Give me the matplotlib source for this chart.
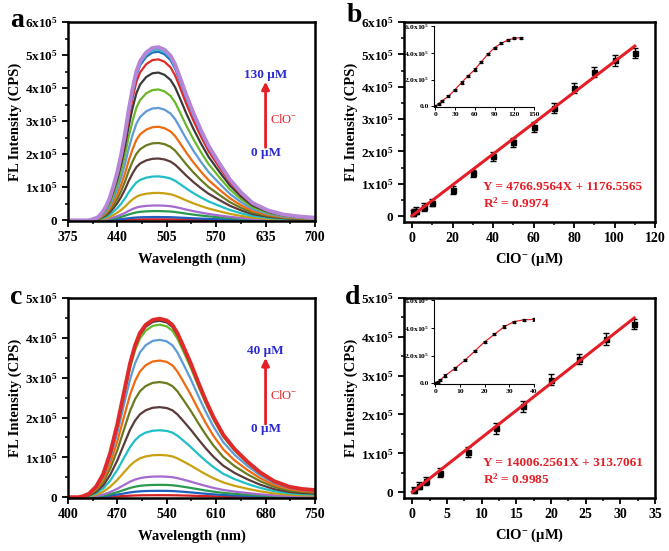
import numpy as np
import matplotlib
matplotlib.use("Agg")
import matplotlib.pyplot as plt

plt.rcParams['font.family'] = 'serif'
plt.rcParams['font.serif'] = ['Liberation Serif', 'DejaVu Serif']
plt.rcParams['font.weight'] = 'bold'
plt.rcParams['axes.labelweight'] = 'bold'
plt.rcParams['mathtext.fontset'] = 'custom'
plt.rcParams['mathtext.default'] = 'regular'

# ---- spectra, panel a (normalised shape of top curve + peak heights, x1e5) ----
a_wl = [375, 400, 405, 410, 415, 420, 425, 430, 435, 440, 445, 450, 455, 460, 465,
        470, 478, 486, 494, 502, 510, 516, 522, 531, 540, 550, 560, 574, 588, 603,
        618, 638, 658, 680, 700]
a_shape = [0, 0, 0.003, 0.01, 0.02, 0.045, 0.08, 0.13, 0.20, 0.28, 0.38, 0.50,
           0.64, 0.76, 0.86, 0.92, 0.97, 0.995, 1.0, 0.985, 0.95, 0.90, 0.83, 0.72,
           0.62, 0.52, 0.43, 0.33, 0.236, 0.16, 0.10, 0.058, 0.034, 0.022, 0.015]
a_peaks = [0.03, 0.10, 0.28, 0.45, 0.83, 1.33, 1.87, 2.34, 2.83, 3.40, 3.96, 4.47,
           4.87, 5.10, 5.17, 5.24]

# ---- spectra, panel c ----
c_wl = [400, 415, 421, 430, 440, 450, 460, 470, 480, 488, 495, 502, 510, 520, 530,
        540, 548, 555, 563, 574, 585, 595, 606, 620, 636, 654, 672, 692, 714, 732, 750]
c_shape = [0, 0, 0.005, 0.02, 0.06, 0.13, 0.25, 0.41, 0.60, 0.75, 0.85, 0.92, 0.965,
           0.993, 1.0, 0.99, 0.965, 0.92, 0.85, 0.75, 0.64, 0.545, 0.45, 0.35, 0.27,
           0.20, 0.14, 0.09, 0.058, 0.046, 0.04]
c_peaks = [0.05, 0.16, 0.31, 0.52, 1.06, 1.68, 2.26, 2.89, 3.43, 3.95, 4.33, 4.43, 4.48]

colors = ['#d42020', '#1f5fbf', '#2a9a50', '#a56ad0', '#c9a010', '#1fbfc8',
          '#5a3a3a', '#6b7a1f', '#f06a10', '#5d9ad6', '#6ab82a', '#3a3a3a',
          '#e02a2a', '#1f6fc0', '#30b8c8', '#b585d8']

# ---- calibration, panel b ----
b_conc = [0.5, 1, 2, 6, 10, 20, 30, 40, 50, 60, 70, 80, 90, 100, 110]
b_int = [0.10, 0.15, 0.17, 0.29, 0.42, 0.80, 1.32, 1.85, 2.29, 2.76, 3.35, 3.96,
         4.45, 4.81, 5.04]
b_err = [0.08, 0.08, 0.1, 0.12, 0.12, 0.12, 0.12, 0.13, 0.14, 0.15, 0.15, 0.16,
         0.16, 0.16, 0.16]
b_slope, b_icpt = 4766.9564, 1176.5565
b_fit_x = [0, 110]
bi_conc = [0, 5, 10, 20, 30, 40, 50, 60, 70, 80, 90, 100, 110, 120, 130]
bi_int = [0.0, 0.2, 0.4, 0.75, 1.25, 1.78, 2.28, 2.75, 3.33, 3.90, 4.38, 4.70, 4.95,
          5.08, 5.13]

# ---- calibration, panel d ----
d_conc = [0.25, 1, 2, 4, 8, 12, 16, 20, 24, 28, 32]
d_int = [0.05, 0.17, 0.28, 0.50, 1.03, 1.65, 2.21, 2.90, 3.43, 3.95, 4.33]
d_err = [0.08, 0.08, 0.1, 0.12, 0.13, 0.14, 0.14, 0.15, 0.13, 0.15, 0.14]
d_slope, d_icpt = 14006.2561, 313.7061
d_fit_x = [0, 32]
di_conc = [0, 0.5, 1, 2, 4, 8, 12, 16, 20, 24, 28, 32, 36, 40]
di_int = [0.0, 0.05, 0.1, 0.23, 0.56, 1.08, 1.67, 2.33, 3.0, 3.54, 4.1, 4.46, 4.59, 4.62]

RED = '#e41e26'
BLUE = '#2a2ad0'

fig = plt.figure(figsize=(6.69, 5.51), dpi=100)
ax_a = fig.add_axes([0.1016, 0.5989, 0.3692, 0.3612])
ax_b = fig.add_axes([0.6039, 0.5971, 0.3752, 0.3630])
ax_c = fig.add_axes([0.1016, 0.0962, 0.3692, 0.3630])
ax_d = fig.add_axes([0.6039, 0.0962, 0.3752, 0.3630])
in_b = fig.add_axes([0.6487, 0.8058, 0.1495, 0.1470])
in_d = fig.add_axes([0.6487, 0.3030, 0.1495, 0.1520])


def boldticks(ax):
    for t in ax.get_xticklabels() + ax.get_yticklabels():
        t.set_fontweight('bold')


def style(ax):
    for s in ax.spines.values():
        s.set_linewidth(1.8)
    ax.tick_params(which='major', direction='out', length=4, width=1.3,
                   top=False, right=False)
    ax.tick_params(axis='x', labelsize=10)
    ax.tick_params(axis='y', labelsize=9.5)
    ax.tick_params(which='minor', direction='out', length=2.2, width=1.1,
                   top=False, right=False)
    boldticks(ax)


def sup_labels(vals, fmt):
    return [("0" if v == 0 else fmt.format(v) + "x10$^{5}$") for v in vals]


def spectra(ax, wl, shape, peaks, xt, ylim_top, conc_hi):
    shape = np.array(shape)
    n = len(peaks)
    for i, p in enumerate(peaks):
        lw = 2.8 if i == n - 1 else 1.6
        ax.plot(wl, p * 1e5 * shape, color=colors[i], lw=lw, zorder=2 + i * 0.01)
    ax.set_xlim(xt[0], xt[-1])
    ax.set_ylim(-0.02e5, ylim_top * 1e5)
    ax.set_xticks(xt)
    ax.set_xticks([(xt[k] + xt[k + 1]) / 2 for k in range(len(xt) - 1)], minor=True)
    yt = list(range(0, ylim_top + 1))
    ax.set_yticks([v * 1e5 for v in yt])
    ax.set_yticklabels(sup_labels(yt, "{:d}"))
    ax.set_yticks([(v + 0.5) * 1e5 for v in yt[:-1]], minor=True)
    ax.set_xlabel("Wavelength (nm)", fontsize=10.5, labelpad=6)
    ax.set_ylabel("FL Intensity (CPS)", fontsize=10.5, labelpad=2)
    ax.annotate("", xy=(0.80, 0.70), xytext=(0.80, 0.37), xycoords='axes fraction',
                arrowprops=dict(arrowstyle='-|>', color=RED, lw=2,
                                mutation_scale=11, shrinkA=0, shrinkB=0))
    ax.text(0.80, 0.735, conc_hi, transform=ax.transAxes, ha='center', va='center',
            color=BLUE, fontsize=9.5, fontweight='bold')
    ax.text(0.80, 0.343, "0 \u03bcM", transform=ax.transAxes, ha='center',
            va='center', color=BLUE, fontsize=9.5, fontweight='bold')
    ax.text(0.818, 0.51, "ClO$^{-}$", transform=ax.transAxes, ha='left',
            va='center', color=RED, fontsize=9, fontweight='normal')
    style(ax)


def calib(ax, conc, inten, err, fit_x, slope, icpt, xlim, xt, ylim_top, eq, r2):
    fx = np.array(fit_x, dtype=float)
    ax.plot(fx, slope * fx + icpt, color=RED, lw=2.2, zorder=3)
    ax.errorbar(conc, [v * 1e5 for v in inten], yerr=[e * 1e5 for e in err],
                fmt='s', color='black', ms=3.6, elinewidth=1, capsize=2.2,
                capthick=1, zorder=2)
    ax.set_xlim(*xlim)
    ax.set_xticks(xt)
    ax.set_xticks([(xt[k] + xt[k + 1]) / 2 for k in range(len(xt) - 1)], minor=True)
    yt = list(range(0, ylim_top + 1))
    ax.set_ylim(-0.18e5 if ylim_top == 6 else -0.15e5, ylim_top * 1e5)
    ax.set_yticks([v * 1e5 for v in yt])
    ax.set_yticklabels(sup_labels(yt, "{:d}"))
    ax.set_yticks([(v + 0.5) * 1e5 for v in yt[:-1]], minor=True)
    ax.set_xlabel("ClO$^{-}$ (\u03bcM)", fontsize=10.5, labelpad=4)
    ax.set_ylabel("FL Intensity (CPS)", fontsize=10.5, labelpad=2)
    ax.text(0.315, 0.175, eq, transform=ax.transAxes, color=RED, fontsize=9.5,
            va='center', fontweight='bold')
    ax.text(0.315, 0.093, r2, transform=ax.transAxes, color=RED, fontsize=9.5,
            va='center', fontweight='bold')
    style(ax)


def inset(ax, conc, inten, xlim, xt):
    ax.plot(conc, [v * 1e5 for v in inten], color=RED, lw=0.9, zorder=2)
    ax.errorbar(conc, [v * 1e5 for v in inten], yerr=0.08e5, fmt='s', color='black',
                ms=1.6, elinewidth=0.7, capsize=1.2, capthick=0.6, zorder=3)
    ax.set_xlim(*xlim)
    ax.set_ylim(-0.05e5, 6e5)
    ax.set_xticks(xt)
    yt = [0, 2, 4, 6]
    ax.set_yticks([v * 1e5 for v in yt])
    ax.set_yticklabels(["0.0"] + ["{:.1f}x10$^{{5}}$".format(v) for v in yt[1:]])
    ax.spines['top'].set_visible(False)
    ax.spines['right'].set_visible(False)
    for s in ['left', 'bottom']:
        ax.spines[s].set_linewidth(0.8)
    ax.tick_params(direction='out', length=2, width=0.7, labelsize=5.4, pad=1.5)
    ax.patch.set_alpha(0)


spectra(ax_a, a_wl, a_shape, a_peaks, [375, 440, 505, 570, 635, 700], 6, "130 \u03bcM")
spectra(ax_c, c_wl, c_shape, c_peaks, [400, 470, 540, 610, 680, 750], 5, "40 \u03bcM")

calib(ax_b, b_conc, b_int, b_err, b_fit_x, b_slope, b_icpt, (-4, 120),
      [0, 20, 40, 60, 80, 100, 120], 6,
      "Y = 4766.9564X + 1176.5565", "R$^{2}$ = 0.9974")
calib(ax_d, d_conc, d_int, d_err, d_fit_x, d_slope, d_icpt, (-1.2, 35),
      [0, 5, 10, 15, 20, 25, 30, 35], 5,
      "Y = 14006.2561X + 313.7061", "R$^{2}$ = 0.9985")

inset(in_b, bi_conc, bi_int, (-2, 150), [0, 30, 60, 90, 120, 150])
inset(in_d, di_conc, di_int, (-0.5, 40), [0, 10, 20, 30, 40])

for lbl, x, y in [("a", 0.015, 0.963), ("b", 0.518, 0.972), ("c", 0.015, 0.46),
                  ("d", 0.515, 0.46)]:
    fig.text(x, y, lbl, fontsize=20, fontweight='bold', va='center', ha='left')

fig.savefig("out.png", dpi=100)
